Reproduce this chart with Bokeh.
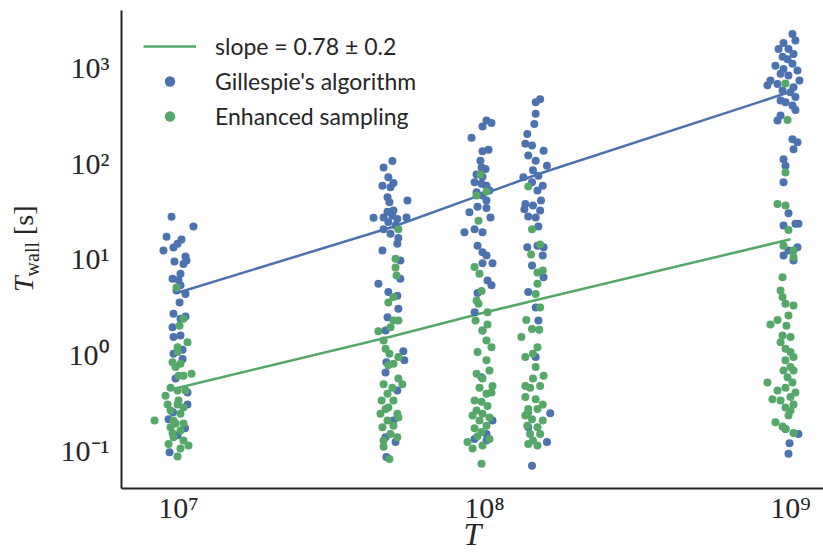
from bokeh.plotting import figure
from bokeh.layouts import row
from bokeh.models import Range1d, FixedTicker, Legend, LegendItem, Div
from bokeh.embed import file_html
from bokeh.resources import INLINE

# ---------------- data (T, T_wall [s]) ----------------
gil_c1 = [(9.49e6,27.5),(1.119e7,21.7),(9.14e6,17.0),(1.023e7,15.9),(9.93e6,14.4),(9.63e6,13.1),(8.93e6,12.2),(1.054e7,10.6),(1.062e7,9.6),(9.70e6,9.4),(1.038e7,8.8),(1.015e7,7.0),(9.56e6,6.2),(1.0e7,6.0),(1.015e7,5.3),(1.054e7,4.3),(9.85e6,4.66),(1.008e7,3.5),(9.63e6,2.66),(1.054e7,2.5),(1.015e7,2.36),(9.56e6,1.93),(1.015e7,1.58),(9.63e6,1.52),(1.031e7,1.12),(9.63e6,1.02),(1.031e7,0.90),(9.78e6,0.56),(1.070e7,0.30),(9.28e6,0.21),(9.35e6,0.095),(9.93e6,0.143),(1.07e7,0.40),(9.6e6,0.25),(1.05e7,0.17)]
gil_c2 = [(5.0e7,105),(4.68e7,90),(4.85e7,71),(4.64e7,58),(5.04e7,62),(4.93e7,56),(4.82e7,44),(5.60e7,40.6),(4.89e7,39),(4.82e7,31),(5.04e7,32),(4.34e7,26.8),(4.68e7,27),(5.0e7,28.3),(5.19e7,26),(5.56e7,27),(4.85e7,24.2),(5.12e7,22.3),(4.68e7,20.4),(4.93e7,18.3),(5.23e7,16.5),(5.19e7,14.4),(4.64e7,12.2),(5.31e7,9.6),(5.31e7,6.2),(4.50e7,5.5),(4.85e7,4.5),(5.19e7,4.1),(5.23e7,3.0),(4.82e7,2.45),(4.75e7,1.78),(5.43e7,1.08),(4.78e7,0.83),(5.47e7,0.87),(4.75e7,0.65),(5.19e7,0.42),(5.04e7,0.204),(4.75e7,0.137),(5.12e7,0.122),(4.78e7,0.085)]
gil_c3 = [(1.015e8,279),(1.054e8,262),(9.85e7,242),(9.07e7,184),(1.031e8,138),(9.85e7,133),(9.70e7,106),(9.78e7,90),(1.008e8,87),(9.42e7,76),(9.85e7,72),(9.28e7,63),(9.78e7,61),(1.015e8,58),(1.038e8,51.7),(9.42e7,49.6),(9.85e7,46),(1.015e8,40.6),(9.49e7,35),(1.015e8,34),(8.93e7,30.7),(1.046e8,27),(9.28e7,20.4),(8.60e7,19.0),(9.85e7,19.0),(9.49e7,13.7),(9.85e7,11.7),(1.015e8,10.8),(1.062e8,9.0),(9.85e7,9.0),(1.023e8,5.93),(1.054e8,5.3),(9.49e7,4.4),(9.28e7,2.77),(9.85e7,1.78),(9.78e7,0.58),(1.062e8,0.204),(9.28e7,0.131),(1.015e8,0.126),(1.015e8,0.148)]
gil_c4 = [(1.52e8,466),(1.47e8,433),(1.47e8,327),(1.455e8,257),(1.38e8,202),(1.36e8,159),(1.43e8,153),(1.56e8,135),(1.39e8,120),(1.47e8,106),(1.60e8,94),(1.34e8,71),(1.44e8,84),(1.50e8,74),(1.43e8,63),(1.55e8,58),(1.49e8,51.7),(1.36e8,37.4),(1.53e8,40.6),(1.44e8,36),(1.35e8,33),(1.52e8,32),(1.39e8,27.7),(1.47e8,27),(1.50e8,21.7),(1.38e8,13.2),(1.49e8,13.7),(1.56e8,13.2),(1.55e8,10.8),(1.43e8,8.5),(1.56e8,6.4),(1.39e8,4.5),(1.47e8,3.1),(1.50e8,2.27),(1.47e8,0.94),(1.64e8,0.244),(1.60e8,0.122),(1.43e8,0.069),(1.39e8,0.174)]
gil_c5 = [(1.015e9,2240),(1.038e9,1910),(9.49e8,1800),(9.85e8,1560),(9.14e8,1560),(1.023e9,1380),(9.42e8,1290),(9.78e8,1220),(8.93e8,1040),(1.015e9,1090),(1.054e9,930),(9.49e8,960),(9.28e8,860),(9.85e8,825),(1.070e9,730),(8.60e8,730),(9.07e8,670),(1.023e9,620),(8.41e8,650),(9.42e8,574),(1.0e9,550),(1.038e9,490),(9.28e8,451),(9.63e8,433),(1.015e9,400),(1.038e9,360),(9.28e8,315),(9.07e8,279),(1.015e9,178),(1.054e9,165),(1.023e9,140),(9.49e8,110),(9.63e8,94),(9.49e8,63),(9.85e8,30),(1.038e9,23.3),(1.062e9,23.3),(9.49e8,22.3),(1.054e9,13.2),(9.49e8,10.8),(1.023e9,9.6),(9.85e8,12.2),(9.63e8,0.167),(1.062e9,0.148),(9.93e8,0.118),(9.85e8,0.092)]

enh_c1 = [(9.85e6,5.0),(1.038e7,2.36),(1.008e7,2.0),(1.070e7,1.34),(9.93e6,1.06),(9.56e6,0.83),(9.78e6,0.74),(1.0e7,0.60),(1.038e7,0.60),(1.103e7,0.63),(9.42e6,0.45),(9.93e6,0.42),(9.21e6,0.30),(9.93e6,0.30),(1.038e7,0.28),(9.42e6,0.26),(1.015e7,0.24),(9.63e6,0.204),(8.35e6,0.204),(9.42e6,0.174),(1.015e7,0.161),(9.63e6,0.137),(1.038e7,0.126),(9.28e6,0.116),(1.078e7,0.112),(1.015e7,0.104),(9.93e6,0.086),(9.07e6,0.37),(1.054e7,0.42),(9.78e6,0.19),(1.0e7,0.33),(9.56e6,0.15),(1.038e7,0.19),(1.015e7,0.80),(9.93e6,1.19)]
enh_c2 = [(5.23e7,20.4),(5.12e7,10.0),(5.12e7,8.1),(5.16e7,6.7),(5.04e7,4.0),(4.85e7,3.5),(5.04e7,2.27),(5.23e7,2.27),(4.93e7,1.93),(4.50e7,1.75),(4.68e7,1.40),(4.75e7,1.15),(4.89e7,1.02),(5.23e7,0.94),(4.85e7,0.77),(5.04e7,0.80),(5.23e7,0.56),(5.39e7,0.49),(4.68e7,0.49),(5.0e7,0.45),(4.82e7,0.39),(4.61e7,0.33),(5.04e7,0.33),(4.85e7,0.28),(4.57e7,0.24),(5.19e7,0.24),(4.82e7,0.204),(5.04e7,0.18),(4.64e7,0.174),(4.93e7,0.148),(5.19e7,0.137),(4.68e7,0.126),(4.68e7,0.109),(4.89e7,0.081),(5.23e7,0.22),(4.75e7,0.27)]
enh_c3 = [(9.70e7,76),(9.42e7,46),(1.015e8,50.6),(9.56e7,25),(9.28e7,8.2),(9.63e7,7.0),(9.78e7,4.6),(9.42e7,3.67),(9.56e7,3.4),(1.023e8,2.77),(9.35e7,2.27),(1.023e8,2.06),(9.85e7,1.78),(1.015e8,1.40),(1.054e8,1.19),(9.49e7,1.06),(1.015e8,0.87),(1.038e8,0.68),(9.42e7,0.63),(9.85e7,0.56),(1.062e8,0.47),(9.63e7,0.45),(1.015e8,0.39),(1.054e8,0.40),(9.28e7,0.33),(9.78e7,0.32),(1.023e8,0.29),(9.42e7,0.26),(9.85e7,0.24),(9.14e7,0.23),(1.038e8,0.22),(9.63e7,0.204),(1.015e8,0.18),(9.28e7,0.17),(9.78e7,0.155),(1.038e8,0.131),(8.80e7,0.122),(9.14e7,0.104),(9.85e7,0.112),(9.78e7,0.072),(9.49e7,0.14)]
enh_c4 = [(1.39e8,57),(1.43e8,20.4),(1.52e8,14.1),(1.42e8,11.1),(1.49e8,7.2),(1.55e8,7.55),(1.49e8,5.5),(1.47e8,4.3),(1.52e8,3.1),(1.37e8,2.3),(1.43e8,1.85),(1.51e8,1.81),(1.32e8,1.52),(1.49e8,1.19),(1.44e8,1.02),(1.36e8,0.94),(1.47e8,0.74),(1.56e8,0.60),(1.44e8,0.56),(1.36e8,0.47),(1.52e8,0.47),(1.41e8,0.45),(1.36e8,0.36),(1.47e8,0.34),(1.55e8,0.30),(1.39e8,0.27),(1.49e8,0.27),(1.36e8,0.23),(1.43e8,0.21),(1.55e8,0.204),(1.38e8,0.18),(1.49e8,0.174),(1.41e8,0.148),(1.52e8,0.148),(1.44e8,0.126),(1.39e8,0.116),(1.49e8,0.112),(1.39e8,0.25)]
enh_c5 = [(9.63e8,680),(9.78e8,282),(9.63e8,80),(9.07e8,37.4),(9.63e8,36),(9.85e8,20),(9.49e8,13.7),(1.023e9,12.2),(1.023e9,10.4),(9.42e8,6.4),(9.28e8,4.66),(9.42e8,4.0),(9.63e8,3.4),(1.023e9,3.25),(9.85e8,2.55),(9.07e8,2.3),(8.60e8,2.06),(9.70e8,2.0),(9.42e8,1.58),(1.0e9,1.52),(9.28e8,1.34),(9.63e8,1.15),(1.0e9,1.06),(1.023e9,0.94),(9.63e8,0.87),(1.0e9,0.74),(9.49e8,0.68),(1.023e9,0.68),(9.78e8,0.58),(8.41e8,0.51),(1.015e9,0.51),(9.63e8,0.45),(9.07e8,0.42),(1.038e9,0.40),(1.0e9,0.36),(8.73e8,0.34),(9.28e8,0.33),(1.023e9,0.30),(9.63e8,0.28),(8.93e8,0.196),(9.85e8,0.23),(9.42e8,0.177),(9.63e8,0.167),(1.023e9,0.151),(1.0e9,0.26)]

fit_T = [1e7, 5e7, 1e8, 1.5e8, 1e9]
gillespie_fit = [4.45, 21.5, 48, 77, 556]
enhanced_fit = [0.45, 1.55, 2.75, 3.75, 16]

x_tick_values = [1e7, 1e8, 1e9]
x_tick_labels = ["10\u2077", "10\u2078", "10\u2079"]
y_tick_values = [0.1, 1, 10, 100, 1000]
y_tick_labels = ["10\u207b\u00b9", "10\u2070", "10\u00b9", "10\u00b2", "10\u00b3"]

BLUE = "#4C72B0"
GREEN = "#55A868"
AX = "#262626"
SERIF = "Liberation Serif"
SANS = "Lato"
STRIP_W = 44
H = 555

gil = gil_c1 + gil_c2 + gil_c3 + gil_c4 + gil_c5
enh = enh_c1 + enh_c2 + enh_c3 + enh_c4 + enh_c5

p = figure(width=823 - STRIP_W, height=H, x_axis_type="log", y_axis_type="log",
           x_range=Range1d(6.512e6, 1.282e9), y_range=Range1d(0.0398, 3933),
           output_backend="svg", toolbar_location=None,
           min_border_left=121 - STRIP_W, min_border_right=0, min_border_top=10, min_border_bottom=67)
p.background_fill_color = "white"
p.border_fill_color = "white"
p.outline_line_color = None
p.grid.visible = False

l_blue = p.line(fit_T, gillespie_fit, line_color=BLUE, line_width=2.5)
l_green = p.line(fit_T, enhanced_fit, line_color=GREEN, line_width=2.5)
s_blue = p.scatter([t for t, _ in gil], [w for _, w in gil], size=8, fill_color=BLUE, line_color=None)
s_green = p.scatter([t for t, _ in enh], [w for _, w in enh], size=8, fill_color=GREEN, line_color=None)

for ax in (p.xaxis[0], p.yaxis[0]):
    ax.axis_line_color = AX
    ax.axis_line_width = 2
    ax.major_tick_line_color = None
    ax.minor_tick_line_color = None
    ax.major_tick_out = 0
    ax.major_tick_in = 0
    ax.minor_tick_out = 0
    ax.minor_tick_in = 0
    ax.major_label_text_font = SERIF
    ax.major_label_text_font_size = "30px"
    ax.major_label_text_color = AX

p.xaxis.ticker = FixedTicker(ticks=x_tick_values)
p.xaxis.major_label_overrides = dict(zip(x_tick_values, x_tick_labels))
p.xaxis.major_label_standoff = 2
p.xaxis.axis_label = "T"
p.xaxis.axis_label_text_font = SERIF
p.xaxis.axis_label_text_font_style = "italic"
p.xaxis.axis_label_text_font_size = "32px"
p.xaxis.axis_label_text_color = AX
p.xaxis.axis_label_standoff = -11
p.yaxis.ticker = FixedTicker(ticks=y_tick_values)
p.yaxis.major_label_overrides = dict(zip(y_tick_values, y_tick_labels))
p.yaxis.major_label_standoff = 12
p.yaxis.axis_label = None

legend = Legend(items=[LegendItem(label="slope = 0.78 \u00b1 0.2", renderers=[l_green]),
                       LegendItem(label="Gillespie's algorithm", renderers=[s_blue]),
                       LegendItem(label="Enhanced sampling", renderers=[s_green])],
                location="top_left")
legend.margin = 22
legend.padding = 0
legend.spacing = 7
legend.glyph_width = 53
legend.glyph_height = 26
legend.label_height = 26
legend.label_standoff = 19
legend.label_text_font = SANS
legend.label_text_font_size = "23px"
legend.label_text_color = AX
legend.background_fill_alpha = 0
legend.border_line_color = None
p.add_layout(legend)

# y-axis title: real HTML text, rotated with CSS so it reads bottom to top
ylabel_html = (
    f'<div style="position:relative;width:{STRIP_W}px;height:{H}px;overflow:visible;">'
    '<div style="position:absolute;left:0;top:0;transform-origin:0 0;'
    'transform:translate(10px,292px) rotate(-90deg);white-space:nowrap;line-height:1;'
    f'font-family:\'{SERIF}\';color:{AX};">'
    '<span style="font-size:28px;font-style:italic;">T</span>'
    '<span style="font-size:20px;position:relative;top:6px;">wall</span>'
    '<span style="font-size:28px;">&nbsp;[s]</span>'
    '</div></div>'
)
ylab = Div(text=ylabel_html, width=STRIP_W, height=H, margin=0)

layout = row(ylab, p, spacing=0)
open("out.html", "w").write(file_html(layout, INLINE))
